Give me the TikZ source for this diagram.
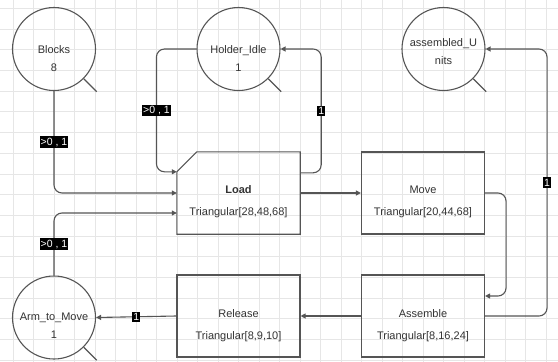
\documentclass[tikz,border=0pt]{standalone}
\usepackage{fontspec}
\setmainfont{Liberation Sans}
\usetikzlibrary{arrows.meta}
\definecolor{edge}{HTML}{555555}
\definecolor{txtc}{HTML}{333333}
\definecolor{gridc}{HTML}{E6E6E6}
\begin{document}
\begin{tikzpicture}[x=1pt,y=-1pt,
  place/.style={circle,draw=edge,line width=1.1pt,minimum size=83pt,inner sep=0pt},
  box/.style={rectangle,draw=edge,line width=1.1pt,minimum width=123pt,minimum height=82pt,inner sep=0pt},
  plainbox/.style={rectangle,minimum width=123pt,minimum height=82pt,inner sep=0pt},
  conn/.style={draw=edge,line width=1.1pt,rounded corners=8pt,-{Triangle[length=5pt,width=5pt]}},
  lbl/.style={fill=black,text=white,font=\fontsize{10.5}{11}\selectfont,inner xsep=1pt,inner ysep=1.5pt,sharp corners},
  ctxt/.style={text=txtc,font=\fontsize{11}{18}\selectfont,inner sep=0pt,align=center},
  btxt/.style={text=txtc,font=\fontsize{11}{22}\selectfont,inner sep=0pt,align=center},
  tail/.style={draw=edge,line width=1.1pt}]
\fill[white] (0,0) rectangle (558,362);
\useasboundingbox (0,0) rectangle (558,362);
% grid
\foreach \k in {0,...,26} \draw[gridc,line width=0.7pt] ({13+20.5*\k},0) -- ({13+20.5*\k},362);
\foreach \k in {0,...,17} \draw[gridc,line width=0.7pt] (0,{8.3+20.7*\k}) -- (558,{8.3+20.7*\k});
% places
\node[place] (blocks) at (54,49) {};
\node[ctxt] (blockst) at (54,59) {Blocks\\8};
\draw[tail] (blocks.-45) -- ++(13,13);
\node[place] (holder) at (238.5,49) {};
\node[ctxt] (holdert) at (238.5,59) {Holder\_Idle\\1};
\draw[tail] (holder.-45) -- ++(13,13);
\node[place] (units) at (443.5,49) {};
\node[ctxt] (unitst) at (443.5,51.5) {assembled\_U\\nits};
\draw[tail] (units.-45) -- ++(13,13);
\node[place] (arm) at (54,317.5) {};
\node[ctxt] (armt) at (54,326) {Arm\_to\_Move\\1};
\draw[tail] (arm.-45) -- ++(13,13);
% transitions
\node[plainbox] (load) at (238.5,193) {};
\draw[edge,line width=1.1pt,line join=miter] (load.south west) -- ([yshift=-20pt]load.north west) -- ([xshift=20pt]load.north west) -- (load.north east) -- (load.south east) -- cycle;
\node[btxt] (loadt) at (238.5,202) {\textbf{Load}\\Triangular[28,48,68]};
\node[box] (move) at (423,193) {};
\node[btxt] (movet) at (423,202) {Move\\Triangular[20,44,68]};
\node[box] (release) at (238.5,316) {};
\node[btxt] (releaset) at (238.5,325.5) {Release\\Triangular[8,9,10]};
\node[box] (assemble) at (423,316) {};
\node[btxt] (assemblet) at (423,325.5) {Assemble\\Triangular[8,16,24]};
% connectors
\draw[conn] (blocks.south) |- (load.west) node[lbl,pos=0.25] {>0 , 1};
\draw[conn] (holder.west) -- ++(-40,0) |- ([yshift=-20pt]load.north west) node[lbl,pos=0.25] {>0 , 1};
\draw[conn] ([yshift=-21pt]load.north east) -- ++(21,0) |- (holder.east) node[lbl,pos=0.25] {1};
\draw[conn] (arm.north) |- ([yshift=-20pt]load.west) node[lbl,pos=0.25] {>0 , 1};
\draw[conn] (load.east) -- (move.west);
\draw[conn] (move.east) -- ++(21,0) |- ([yshift=20pt]assemble.east);
\draw[conn] (assemble.east) -- ++(62,0) |- (units.east) node[lbl,pos=0.25] {1};
\draw[conn] (assemble.west) -- (release.east);
\draw[conn] (release.west) -- (arm.east) node[lbl,pos=0.5] {1};
\end{tikzpicture}
\end{document}
